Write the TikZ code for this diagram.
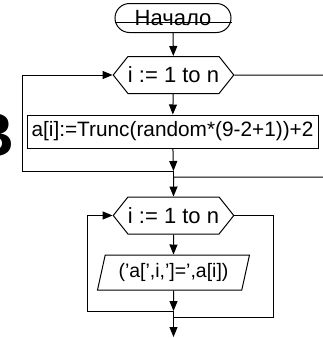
\documentclass[tikz,border=0pt]{standalone}
\usepackage{fontspec}
\setmainfont{Liberation Sans}
\usetikzlibrary{shapes.geometric}
\usetikzlibrary{shapes.symbols}
\usetikzlibrary{arrows.meta}

\begin{document}
\begin{tikzpicture}[x=1pt, y=-1pt,
    every node/.style={font=\fontsize{22}{24}\selectfont, inner sep=0pt},
    line/.style={line width=1pt},
    arr/.style={line, -{Triangle[length=10pt, width=8pt]}},
    term/.style={draw, line, rounded corners=14.5pt, minimum width=116pt, minimum height=29pt},
    loopbox/.style={draw, line, signal, signal to=east and west, signal pointer angle=103,
        minimum width=117pt, minimum height=37pt},
    actbox/.style={draw, line, minimum width=291pt, minimum height=33pt,
        font=\fontsize{20.8}{24}\selectfont},
    iobox/.style={draw, line, trapezium, trapezium left angle=67, trapezium right angle=113,
        trapezium stretches body, minimum width=152pt, minimum height=35pt,
        font=\fontsize{19.5}{22}\selectfont}]
    \useasboundingbox (0,0) rectangle (323,338);
    \node[font=\fontsize{62}{62}\bfseries\selectfont, anchor=east] (mark) at (14.5,135) {В};
    \node[term] (start) at (173,18) {Начало};
    \draw[line] ([yshift=-4pt]start.west) -- ([yshift=-4pt]start.east);
    \node[loopbox] (for1) at (173.5,75) {i := 1 to n};
    \node[actbox] (body1) at (172.5,131.5) {a[i]:=Trunc(random*(9-2+1))+2};
    \coordinate (j1) at (173.5,171);
    \coordinate (j2) at (173.5,177);
    \coordinate (l1) at (22,171);
    \coordinate (r1) at (326,177);
    \node[loopbox] (for2) at (173.5,215.5) {i := 1 to n};
    \node[iobox] (out) at (173.5,272.5) {('a[',i,']=',a[i])};
    \coordinate (j3) at (173.5,311);
    \coordinate (j4) at (173.5,317);
    \coordinate (l3) at (87,311);
    \coordinate (r3) at (273,317);
    \coordinate (fin) at (173.5,337);
    \draw[arr] (start) -- (for1);
    \draw[arr] (for1) -- (body1);
    \draw[arr] (body1) -- (j1);
    \draw[arr] (j1) -- (l1) |- (for1.west);
    \draw[line] (j1) -- (j2);
    \draw[arr] (for1.east) -| (r1) -- (j2) -- (for2);
    \draw[arr] (for2) -- (out);
    \draw[arr] (out) -- (j3);
    \draw[arr] (j3) -- (l3) |- (for2.west);
    \draw[line] (j3) -- (j4);
    \draw[arr] (for2.east) -| (r3) -- (j4) -- (fin);
\end{tikzpicture}
\end{document}
